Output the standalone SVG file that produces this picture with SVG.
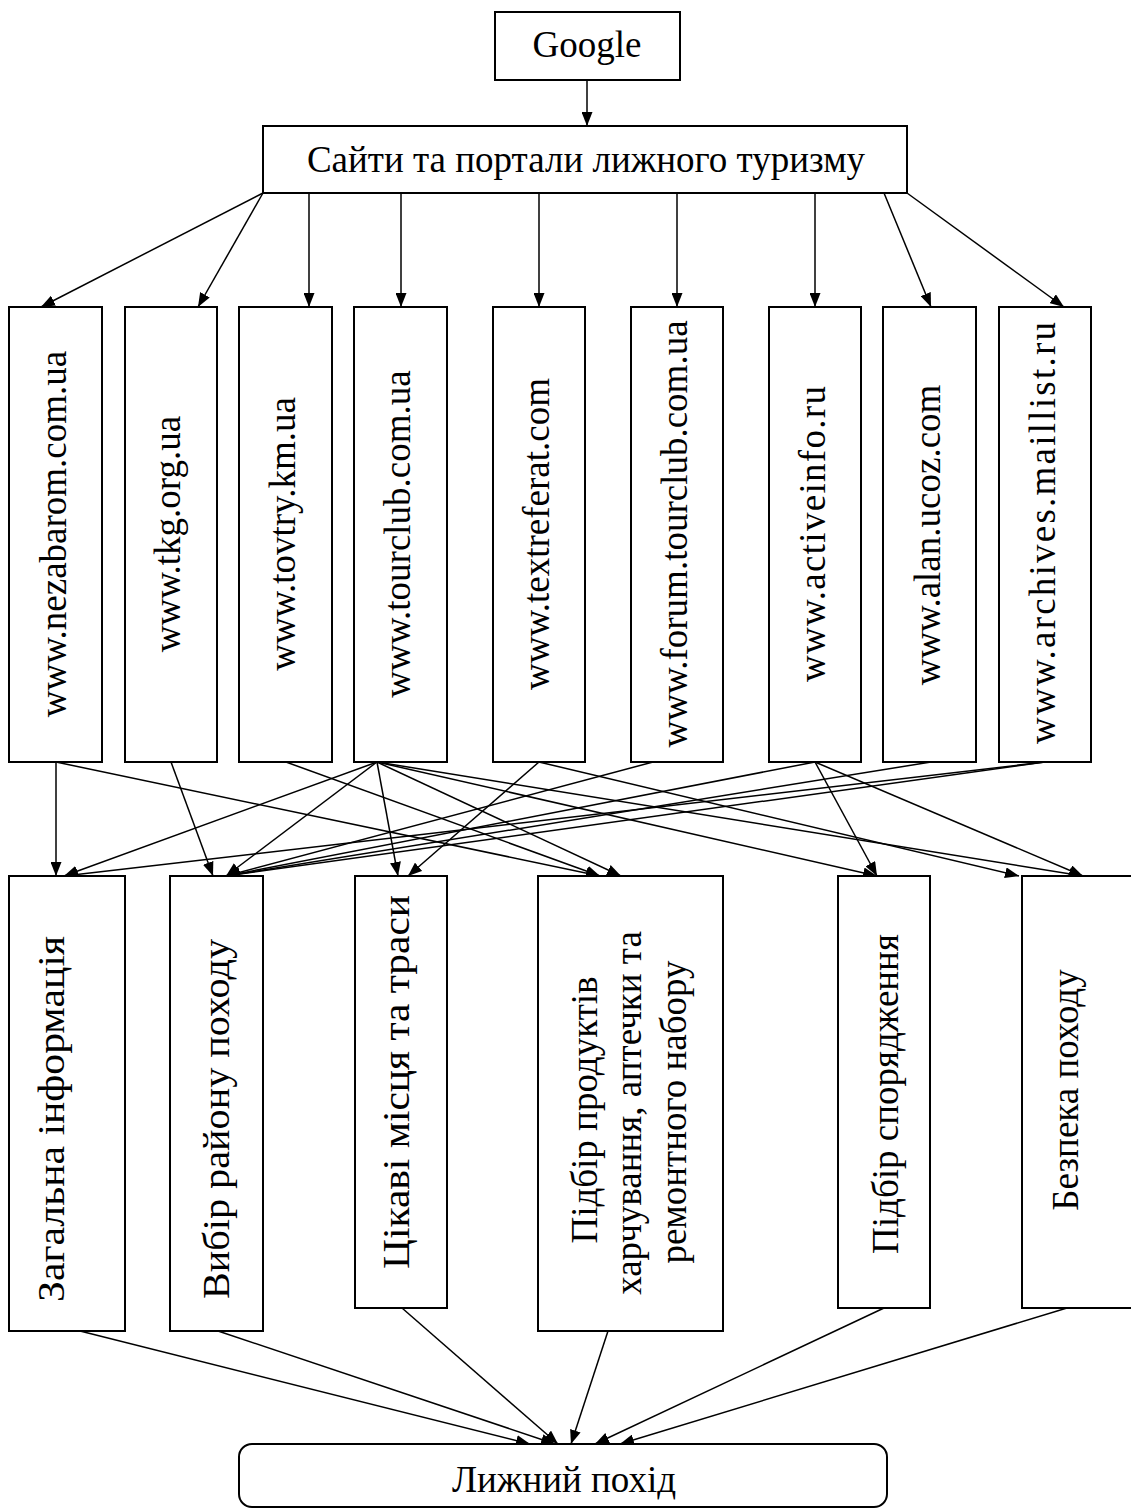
<svg xmlns="http://www.w3.org/2000/svg" width="1131" height="1511" viewBox="0 0 1131 1511">
<style>
.box{fill:#fff;stroke:#000;stroke-width:2}
.t{font-family:"Liberation Serif","Times New Roman",serif;font-size:37px;fill:#000;text-anchor:middle}
.e{stroke:#000;stroke-width:1.5;fill:none;marker-end:url(#ah)}
</style>
<defs>
<marker id="ah" markerUnits="userSpaceOnUse" markerWidth="14" markerHeight="11" refX="14" refY="5.5" orient="auto" viewBox="0 0 14 11"><path d="M0,0L14,5.5L0,11z" fill="#000"/></marker>
</defs>
<rect width="1131" height="1511" fill="#fff"/>
<g id="connectors">
<line class="e" x1="587" y1="80" x2="587" y2="126"/>
<line class="e" x1="263" y1="193" x2="41" y2="307"/>
<line class="e" x1="263" y1="193" x2="198" y2="307"/>
<line class="e" x1="309" y1="193" x2="309" y2="307"/>
<line class="e" x1="401" y1="193" x2="401" y2="307"/>
<line class="e" x1="539" y1="193" x2="539" y2="307"/>
<line class="e" x1="677" y1="193" x2="677" y2="307"/>
<line class="e" x1="815" y1="193" x2="815" y2="307"/>
<line class="e" x1="884" y1="193" x2="931" y2="307"/>
<line class="e" x1="907" y1="193" x2="1064" y2="307"/>
<line class="e" x1="56" y1="762" x2="56" y2="876"/>
<line class="e" x1="56" y1="762" x2="600" y2="876"/>
<line class="e" x1="171" y1="762" x2="213" y2="876"/>
<line class="e" x1="286" y1="762" x2="600" y2="876"/>
<line class="e" x1="377" y1="762" x2="64" y2="876"/>
<line class="e" x1="377" y1="762" x2="226" y2="876"/>
<line class="e" x1="377" y1="762" x2="398" y2="876"/>
<line class="e" x1="377" y1="762" x2="621" y2="876"/>
<line class="e" x1="377" y1="762" x2="877" y2="876"/>
<line class="e" x1="377" y1="762" x2="1083" y2="876"/>
<line class="e" x1="539" y1="762" x2="408" y2="876"/>
<line class="e" x1="539" y1="762" x2="1019" y2="876"/>
<line class="e" x1="653" y1="762" x2="226" y2="876"/>
<line class="e" x1="815" y1="762" x2="226" y2="876"/>
<line class="e" x1="815" y1="762" x2="877" y2="876"/>
<line class="e" x1="815" y1="762" x2="1083" y2="876"/>
<line class="e" x1="931" y1="762" x2="226" y2="876"/>
<line class="e" x1="1045" y1="762" x2="64" y2="876"/>
<line class="e" x1="1045" y1="762" x2="226" y2="876"/>
<line class="e" x1="80" y1="1331" x2="530" y2="1444"/>
<line class="e" x1="218" y1="1331" x2="555" y2="1444"/>
<line class="e" x1="402" y1="1308" x2="558" y2="1444"/>
<line class="e" x1="608" y1="1331" x2="571" y2="1444"/>
<line class="e" x1="884" y1="1308" x2="595" y2="1444"/>
<line class="e" x1="1067" y1="1308" x2="620" y2="1444"/>
</g>
<g id="google"><rect class="box" x="495" y="12" width="185" height="68"/><text class="t" x="587" y="57">Google</text></g>
<g id="sites"><rect class="box" x="263" y="126" width="644" height="67"/><text class="t" x="586" y="172">Сайти та портали лижного туризму</text></g>
<g id="s1"><rect class="box" x="9" y="307" width="93" height="455"/><text class="t" transform="translate(66,534) rotate(-90)">www.nezabarom.com.ua</text></g>
<g id="s2"><rect class="box" x="125" y="307" width="92" height="455"/><text class="t" transform="translate(180,534) rotate(-90)">www.tkg.org.ua</text></g>
<g id="s3"><rect class="box" x="239" y="307" width="93" height="455"/><text class="t" transform="translate(295,534) rotate(-90)">www.tovtry.km.ua</text></g>
<g id="s4"><rect class="box" x="354" y="307" width="93" height="455"/><text class="t" transform="translate(410,534) rotate(-90)">www.tourclub.com.ua</text></g>
<g id="s5"><rect class="box" x="493" y="307" width="92" height="455"/><text class="t" transform="translate(549,534) rotate(-90)">www.textreferat.com</text></g>
<g id="s6"><rect class="box" x="631" y="307" width="92" height="455"/><text class="t" transform="translate(687,534) rotate(-90)">www.forum.tourclub.com.ua</text></g>
<g id="s7"><rect class="box" x="769" y="307" width="92" height="455"/><text class="t" transform="translate(825,534) rotate(-90)" textLength="296" lengthAdjust="spacing">www.activeinfo.ru</text></g>
<g id="s8"><rect class="box" x="883" y="307" width="93" height="455"/><text class="t" transform="translate(940,535) rotate(-90)">www.alan.ucoz.com</text></g>
<g id="s9"><rect class="box" x="999" y="307" width="92" height="455"/><text class="t" transform="translate(1055,533) rotate(-90)" textLength="422" lengthAdjust="spacing">www.archives.maillist.ru</text></g>
<g id="c1"><rect class="box" x="9" y="876" width="116" height="455"/><text class="t" transform="translate(64,1119) rotate(-90)" textLength="366" lengthAdjust="spacingAndGlyphs">Загальна інформація</text></g>
<g id="c2"><rect class="box" x="170" y="876" width="93" height="455"/><text class="t" transform="translate(229,1119) rotate(-90)" textLength="360" lengthAdjust="spacingAndGlyphs">Вибір району походу</text></g>
<g id="c3"><rect class="box" x="355" y="876" width="92" height="432"/><text class="t" transform="translate(409,1082) rotate(-90)" textLength="374" lengthAdjust="spacingAndGlyphs">Цікаві місця та траси</text></g>
<g id="c4"><rect class="box" x="538" y="876" width="185" height="455"/><text class="t" transform="translate(597,1110) rotate(-90)">Підбір продуктів</text><text class="t" transform="translate(641,1113) rotate(-90)">харчування, аптечки та</text><text class="t" transform="translate(686,1112) rotate(-90)">ремонтного набору</text></g>
<g id="c5"><rect class="box" x="838" y="876" width="92" height="432"/><text class="t" transform="translate(898,1094) rotate(-90)">Підбір спорядження</text></g>
<g id="c6"><rect class="box" x="1022" y="876" width="120" height="432"/><text class="t" transform="translate(1078,1090) rotate(-90)">Безпека походу</text></g>
<g id="trip"><rect class="box" x="239" y="1444" width="648" height="63" rx="13"/><text class="t" x="564" y="1492">Лижний похід</text></g>
</svg>
